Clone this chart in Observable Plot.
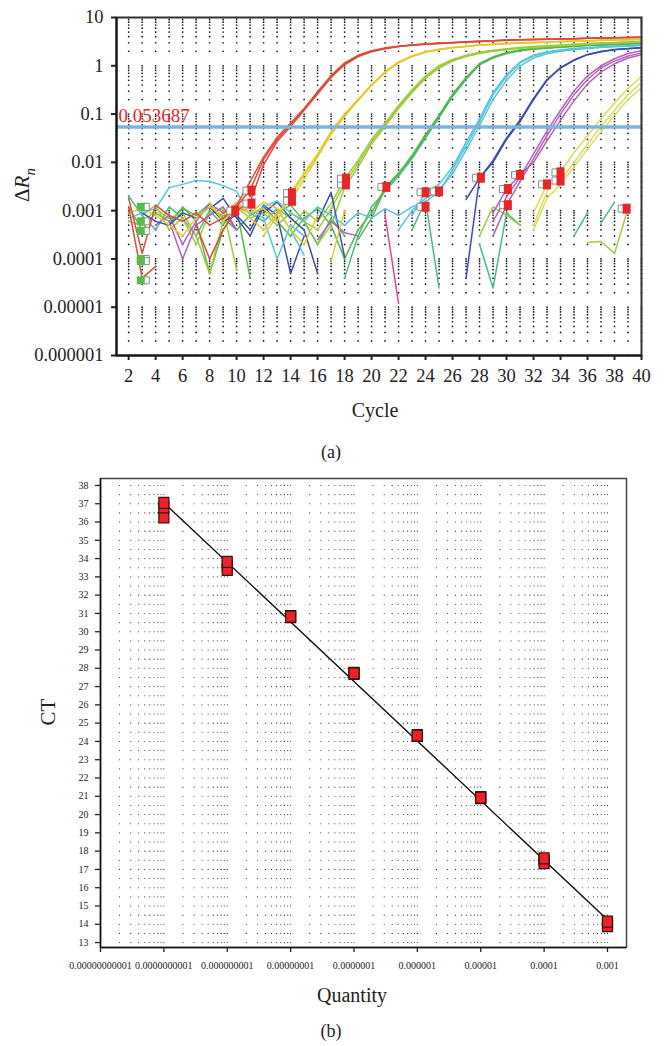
<!DOCTYPE html>
<html><head><meta charset="utf-8">
<script src="https://cdn.jsdelivr.net/npm/d3@7"></script>
<script src="https://cdn.jsdelivr.net/npm/@observablehq/plot@0.6"></script>
<style>
body{margin:0;background:#fff;width:664px;height:1046px;position:relative;overflow:hidden;font-family:"Liberation Serif","DejaVu Serif",serif;color:#222}
.t{position:absolute;transform:translate(-50%,-50%);white-space:nowrap;line-height:1}
#a{position:absolute;left:0;top:0}
#b{position:absolute;left:0;top:470px}
</style></head><body>
<div id="a"></div>
<div id="b"></div>
<div class="t" style="left:25px;top:185px;font-size:21px;transform:translate(-50%,-50%) rotate(-90deg)">Δ<i>R</i><sub style="font-size:15px"><i>n</i></sub></div>
<div class="t" style="left:375px;top:410px;font-size:20px">Cycle</div>
<div class="t" style="left:331px;top:452px;font-size:18px">(a)</div>
<div class="t" style="left:48px;top:712px;font-size:21px;transform:translate(-50%,-50%) rotate(-90deg)">CT</div>
<div class="t" style="left:352px;top:995px;font-size:20px">Quantity</div>
<div class="t" style="left:331px;top:1031px;font-size:18px">(b)</div>
<script>
// ---------- Panel (a) data ----------
const aYTicks = [0.000001, 0.00001, 0.0001, 0.001, 0.01, 0.1, 1, 10];
const aYLabels = ["0.000001", "0.00001", "0.0001", "0.001", "0.01", "0.1", "1", "10"];
const aXTicks = [2,4,6,8,10,12,14,16,18,20,22,24,26,28,30,32,34,36,38,40];
const threshold = 0.053687;
const thresholdLabel = "0.053687";

// runs: [first cycle, values per cycle]
const redRuns = [
  [2, [0.0018,0.00013,0.0013,0.0008,0.0006,0.0009,0.0005,0.0007,0.0012,0.0027,0.0115,0.03,0.06,0.125,0.27,0.6,1.1,1.6,2.0,2.3,2.5,2.7,2.8,2.9,3.0,3.1,3.2,3.3,3.4,3.45,3.5,3.55,3.6,3.65,3.7,3.75,3.8,3.85,3.9]],
  [2, [0.0012,0.00004,0.00007]],
  [7, [0.0005,0.0001,0.0004,0.001,0.0015,0.009,0.027,0.055,0.12,0.26,0.57,1.05,1.55,1.95,2.25,2.5,2.65,2.8,2.9,3.0,3.1,3.2,3.3,3.35,3.45,3.5,3.55,3.6,3.65,3.7,3.75,3.8,3.85,3.9]],
  [9, [0.0009,0.0013,0.004,0.013,0.033,0.065,0.13,0.29,0.63,1.15,1.65,2.05,2.35,2.55,2.7,2.85,2.95,3.05,3.15,3.25,3.3,3.4,3.45,3.5,3.55,3.6,3.65,3.7,3.75,3.8,3.85,3.9]]
];
const yellowRuns = [
  [2, [0.0009,0.0011,0.0008,0.0005,0.0003,0.0007,0.0012,0.0008,0.0015,0.0009,0.0011,0.0006,0.0023,0.006,0.015,0.044,0.1,0.2,0.41,0.76,1.2,1.6,1.95,2.2,2.4,2.55,2.7,2.8,2.9,3.0,3.05,3.1,3.2,3.25,3.3,3.4,3.45,3.5,3.55]],
  [8, [0.0015,0.0006,0.0012,0.0007,0.0004,0.0009,0.0016,0.0045,0.013,0.038,0.09,0.19,0.39,0.72,1.15,1.55,1.9,2.15,2.35,2.5,2.65,2.75,2.85,2.95,3.0,3.1,3.15,3.2,3.3,3.35,3.4,3.45,3.5]],
  [12, [0.0003,0.0008,0.002,0.0055,0.014,0.041,0.095,0.2,0.4,0.74,1.18,1.58,1.92,2.18,2.38,2.52,2.68,2.78,2.88,2.98,3.02,3.08,3.18,3.22,3.28,3.38,3.42,3.48,3.52]],
  [17, [0.00009,0.001]],
  [9, [0.0006,0.0013,0.0009,0.0015,0.0011,0.0004,0.0002,0.0008]]
];
const limeRuns = [
  [2, [0.0006,0.0005,0.0011,0.0007,0.0009,0.0003,0.00005,0.0006,0.0012,0.0007,0.0009,0.0005,0.0009,0.0006,0.0004,0.0011,0.0036,0.0095,0.027,0.06,0.14,0.3,0.58,0.95,1.3,1.6,1.85,2.05,2.2,2.35,2.45,2.55,2.65,2.75,2.85,2.95,3.0,3.1,3.15]],
  [14, [0.0004,0.001,0.0006,0.0014,0.0045,0.011,0.03,0.066,0.15,0.32,0.62,1.0,1.35,1.65,1.9,2.1,2.25,2.4,2.5,2.6,2.7,2.8,2.9,2.95,3.05,3.1,3.2]],
  [16, [0.0002,0.0005,0.003,0.008,0.024,0.055,0.13,0.28,0.55,0.9,1.25,1.55,1.8,2.0,2.15,2.3,2.4,2.5,2.6,2.7,2.8,2.9,2.95,3.05,3.1]],
  [28, [0.0003,0.0012,0.0008,0.0005]],
  [36, [0.00022,0.00023,0.00013,0.0011]],
  [3, [0.0008,0.0013,0.0004,0.0007,0.0002,0.0009,0.0011,0.00006]]
];
const greenRuns = [
  [2, [0.0012,0.0004,0.0009,0.0006,0.0011,0.0008,0.0014,0.0007,0.0004,0.0008,0.0011,0.0006,0.0003,0.0007,0.0011,0.0005,0.0001,0.0004,0.0009,0.003,0.006,0.013,0.035,0.09,0.25,0.55,1.1,1.5,1.85,2.1,2.25,2.35,2.45,2.55,2.65,2.7,2.78,2.84,2.9]],
  [19, [0.00025,0.0007,0.0028,0.0058,0.014,0.038,0.095,0.26,0.57,1.12,1.52,1.87,2.12,2.27,2.37,2.47,2.57,2.66,2.72,2.8,2.86,2.92]],
  [5, [0.0005,0.0012,0.0006,0.00005,0.0004,0.0011,0.00004]],
  [13, [0.0009,0.0013,0.0006,0.0002,0.0007,0.0003]]
];
const tealRuns = [
  [18, [0.00004,0.0003,0.0012,0.0025,0.0052,0.012,0.032,0.085,0.23,0.52,1.05,1.45,1.8,2.05,2.2,2.32,2.42,2.52,2.62,2.68,2.76,2.82,2.88]],
  [2, [0.002,0.0008,0.0004,0.0012,0.0007,0.0003,0.001,0.0005,0.0012,0.0009,0.0006,0.0011,0.0007]],
  [23, [0.0004,0.0016,0.000025]],
  [28, [0.0002,0.000025,0.0009,0.0005]],
  [35, [0.0003,0.0009]],
  [37, [0.00055,0.0015]]
];
const cyanRuns = [
  [2, [0.0007,0.0009,0.0011,0.003,0.0035,0.0042,0.004,0.0033,0.0025,0.0008,0.0012,0.0016,0.0009,0.0006,0.0012,0.0008,0.0005,0.0009,0.0007,0.0011,0.0008,0.0012,0.0015,0.0025,0.007,0.022,0.07,0.25,0.6,1.15,1.6,1.9,2.1,2.25,2.35,2.45,2.55,2.6,2.7]],
  [22, [0.0004,0.001,0.0018,0.0026,0.0058,0.018,0.058,0.2,0.5,1.0,1.45,1.78,2.0,2.15,2.28,2.38,2.48,2.55,2.62]],
  [23, [0.0008,0.0024,0.0035,0.008,0.026,0.08,0.28,0.65,1.2,1.65,1.95,2.12,2.27,2.37,2.47,2.56,2.62,2.68]],
  [11, [0.0011,0.0007,0.0001,0.0005,0.0003]],
  [12, [0.0006,0.0011,0.0004,0.00012]]
];
const blueRuns = [
  [27, [0.00004,0.0047,0.01,0.03,0.07,0.2,0.5,0.9,1.3,1.7,1.95,2.15,2.25,2.35]],
  [27, [0.0017,0.0047,0.011,0.032,0.075,0.21,0.52,0.92,1.32,1.72,1.97,2.17,2.27,2.37]],
  [3, [0.0009,0.0006,0.0005,0.0009,0.0007,0.0012,0.0006,0.0008,0.0004,0.0013,0.0008,0.00005,0.0003]],
  [12, [0.0009,0.0015,0.0007,0.0004,0.00005]],
  [16, [0.0006,0.0024,0.00011]],
  [8, [0.0011,0.0018,0.0007,0.0003,0.0012,0.0006]]
];
const magentaRuns = [
  [29, [0.0006,0.0019,0.005,0.015,0.045,0.12,0.3,0.62,1.0,1.4,1.8,2.05]],
  [29, [0.0003,0.0013,0.004,0.012,0.036,0.1,0.25,0.52,0.9,1.25,1.6,1.85]],
  [29, [0.0009,0.0028,0.0055,0.01,0.028,0.075,0.19,0.42,0.75,1.1,1.45,1.7]],
  [5, [0.0006,0.0001,0.0005,0.0008,0.0012,0.0004]],
  [16, [0.00025,0.0006,0.00035,0.0003]],
  [4, [0.0005,0.0008,0.0002,0.0006,0.0014,0.0009,0.0004]]
];
const pinkRuns = [
  [21, [0.0008,0.000012]]
];
const paleRuns = [
  [32, [0.0005,0.0025,0.0063,0.016,0.035,0.08,0.17,0.34,0.6]],
  [32, [0.0009,0.0035,0.0042,0.01,0.024,0.055,0.12,0.25,0.45]],
  [32, [0.0004,0.0018,0.0035,0.008,0.019,0.043,0.095,0.2,0.35]]
];

const ctMarkCycle = [9.9,11.1,11.1,14.1,14.1,18.1,18.1,21.1,24.0,25.0,24.0,28.1,31.0,30.1,30.1,33.0,34.0,34.0,38.9];
const ctMarkValue = [0.001,0.0026,0.0014,0.0023,0.0016,0.0035,0.0046,0.0031,0.0024,0.0025,0.0012,0.0048,0.0055,0.0028,0.0013,0.0035,0.0062,0.0042,0.0011];
const baseMarkCycle = [2.9,2.9,2.9,2.9,2.9,2.9];
const baseMarkValue = [0.0012,0.0006,0.00038,0.0001,0.00009,0.000036];

// ---------- Panel (b) data ----------
const bXTicks = [1e-11,1e-10,1e-9,1e-8,1e-7,1e-6,1e-5,1e-4,1e-3];
const bXLabels = ["0.00000000001","0.0000000001","0.000000001","0.00000001","0.0000001","0.000001","0.00001","0.0001","0.001"];
const bYTicks = [13,14,15,16,17,18,19,20,21,22,23,24,25,26,27,28,29,30,31,32,33,34,35,36,37,38];
const quantities = [1e-3,1e-4,1e-5,1e-6,1e-7,1e-8,1e-9,1e-10];
const ctRep3 = [14.05,17.5,20.95,24.3,27.75,30.8,33.6,36.25];
const ctRep2 = [13.9,17.35,20.9,24.35,27.7,30.85,33.38,36.8];
const ctRep1 = [14.15,17.6,20.93,24.32,27.72,30.83,33.82,37.05];
const fitQ = [1e-10, 1e-3];
const fitCT = [37.05, 14.25];

// ---------- helpers ----------
const toRows = runs => runs.flatMap((r, k) => r[1].map((v, i) => ({id: k, c: r[0] + i, v})));
const rectSym = (w, h) => ({draw(ctx) { ctx.rect(-w / 2, -h / 2, w, h); }});
const minor = (lo, hi) => d3.range(lo, hi).flatMap(e => [1,2,3,4,5,6,7,8,9].map(m => m * Math.pow(10, e)));

const groupsA = [
  [tealRuns, "#46bb86"], [pinkRuns, "#d24a9c"], [greenRuns, "#55b948"], [limeRuns, "#9fcb3f"],
  [magentaRuns, "#b262ba"], [blueRuns, "#3c4fa5"], [cyanRuns, "#55c4dc"], [paleRuns, "#dcdc5c"],
  [yellowRuns, "#e2cb2c"], [redRuns, "#df4a3b"]
];

const gridA = d3.cross(d3.range(2, 41), minor(-6, 1).concat([10]));
const marksA = [
  Plot.dot(gridA, {x: d => d[0], y: d => d[1], r: 0.85, fill: "#111"}),
  ...groupsA.map(([runs, color]) => Plot.line(toRows(runs), {x: "c", y: "v", z: "id", stroke: color, strokeWidth: 1.5, strokeLinejoin: "round"})),
  Plot.ruleY([threshold], {stroke: "#7fb1de", strokeWidth: 3.5}),
  Plot.text([threshold], {y: d => d, frameAnchor: "left", dx: 2, dy: -11, text: () => thresholdLabel, fill: "#e8262a", fontSize: 19, textAnchor: "start"}),
  Plot.dot(ctMarkCycle.map((c, i) => [c, ctMarkValue[i]]), {x: d => d[0], y: d => d[1], dx: -5, symbol: rectSym(7, 7), fill: "#fff", stroke: "#8a8a8a", strokeWidth: 1}),
  Plot.dot(ctMarkCycle.map((c, i) => [c, ctMarkValue[i]]), {x: d => d[0], y: d => d[1], symbol: rectSym(8, 10), fill: "#e8262a"}),
  Plot.dot(baseMarkCycle.map((c, i) => [c, baseMarkValue[i]]), {x: d => d[0], y: d => d[1], dx: 5, symbol: rectSym(7, 7), fill: "#fff", stroke: "#8a8a8a", strokeWidth: 1}),
  Plot.dot(baseMarkCycle.map((c, i) => [c, baseMarkValue[i]]), {x: d => d[0], y: d => d[1], symbol: rectSym(8, 8), fill: "#5cb94f"}),
  Plot.frame({stroke: "#333", strokeWidth: 2}),
  Plot.ruleX([1.1], {stroke: "#111", strokeWidth: 2}),
  Plot.ruleY([1e-6], {stroke: "#111", strokeWidth: 2}),
  Plot.axisY({ticks: aYTicks, tickFormat: (d, i) => aYLabels[aYTicks.indexOf(d)], tickSize: 5, tickPadding: 8, fontSize: 18.5, label: null, strokeWidth: 2}),
  Plot.axisX({ticks: aXTicks, tickFormat: d => String(d), tickSize: 5, tickPadding: 8, fontSize: 18.5, label: null, strokeWidth: 2})
];

const plotA = Plot.plot({
  width: 664, height: 425, marginTop: 17, marginBottom: 70, marginLeft: 116, marginRight: 23,
  style: {fontFamily: "'Liberation Serif', serif", color: "#222", background: "transparent", overflow: "visible"},
  x: {domain: [1.1, 40]},
  y: {type: "log", domain: [1e-6, 10]},
  marks: marksA
});
document.getElementById("a").appendChild(plotA);

// ---------- Panel (b) ----------
const gridB = d3.cross(minor(-11, -2).filter(q => q <= 0.0019), d3.range(13, 38.5, 0.5));
const reps = [ctRep3, ctRep2, ctRep1].flatMap(rep => rep.map((ct, i) => [quantities[i], ct]));
const plotB = Plot.plot({
  width: 664, height: 550, marginTop: 8, marginBottom: 73, marginLeft: 100, marginRight: 38,
  style: {fontFamily: "'Liberation Serif', serif", color: "#222", background: "transparent", overflow: "visible"},
  x: {type: "log", domain: [1e-11, Math.pow(10, -2.7)]},
  y: {domain: [12.73, 38.38]},
  marks: [
    Plot.dot(gridB, {x: d => d[0], y: d => d[1], r: 0.55, fill: "#222"}),
    Plot.line(fitQ.map((q, i) => [q, fitCT[i]]), {x: d => d[0], y: d => d[1], stroke: "#111", strokeWidth: 1.4}),
    Plot.dot(reps, {x: d => d[0], y: d => d[1], symbol: rectSym(10, 11), fill: "#ee2226", stroke: "#3a1212", strokeWidth: 1.2}),
    Plot.frame({stroke: "#444", strokeWidth: 1.5}),
    Plot.ruleX([1e-11], {stroke: "#111", strokeWidth: 1.5}),
    Plot.ruleY([12.73], {stroke: "#111", strokeWidth: 1.5}),
    Plot.axisY({ticks: bYTicks, tickFormat: d => String(d), tickSize: 5, tickPadding: 7, fontSize: 10, label: null, strokeWidth: 1.3}),
    Plot.axisX({ticks: bXTicks, tickFormat: d => bXLabels[bXTicks.indexOf(d)], tickSize: 5, tickPadding: 9, fontSize: 10, label: null, strokeWidth: 1.3})
  ]
});
document.getElementById("b").appendChild(plotB);
</script>
</body></html>
